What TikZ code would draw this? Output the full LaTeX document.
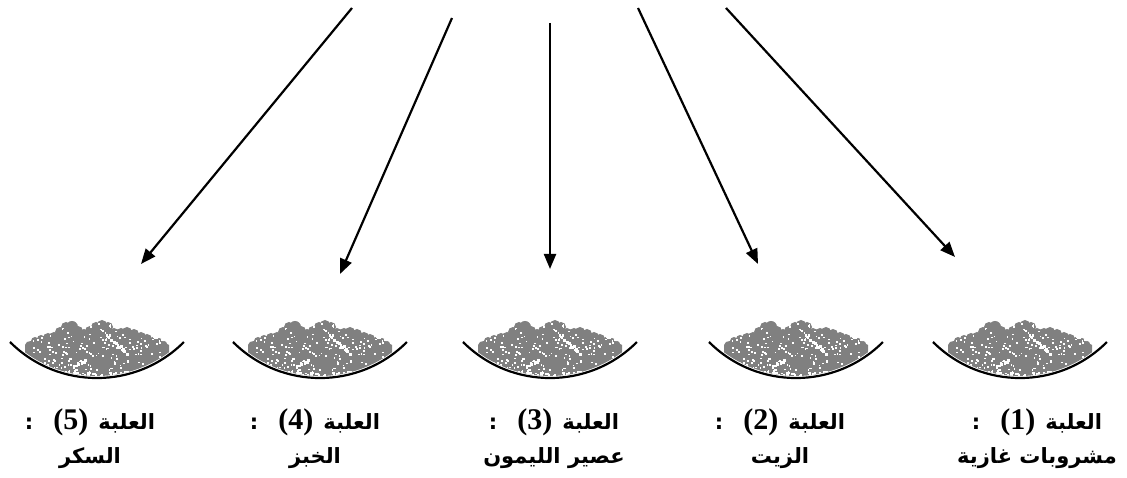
\documentclass[tikz,border=0pt]{standalone}
\usepackage{fontspec}
\usetikzlibrary{arrows.meta}
\TeXXeTstate=1
\newfontfamily\arabicfont[Script=Arabic]{DejaVu Sans}
\newfontfamily\latinfont{Liberation Serif}
\definecolor{heapgray}{RGB}{128,128,128}
\newcommand\numpar[1]{\hspace{10pt}\beginL{\fontsize{30}{34}\selectfont\latinfont\bfseries(#1)}\endL\hspace{20pt}}
\begin{document}
\begin{tikzpicture}[x=1pt,y=1pt,
  arr/.style={line width=2.2pt,-{Triangle[length=15pt,width=12pt]}},
  lab/.style={align=center,font=\fontsize{21}{34}\selectfont\arabicfont\bfseries,inner sep=0pt},
  bowl/.pic={
    \begin{scope}
      \clip (0,123) circle (121);
      \fill[heapgray] (-72,-5) -- (-72,33)
        -- (-70,36) -- (-62,38) -- (-54,40) -- (-46,41) -- (-40,43) -- (-34,50)
        -- (-28,54) -- (-22,51) -- (-16,46) -- (-10,45) -- (-4,50) -- (2,54)
        -- (8,55) -- (14,50) -- (20,45) -- (26,48) -- (32,48) -- (38,46)
        -- (44,43) -- (50,40) -- (56,38) -- (62,37) -- (68,35) -- (72,33)
        -- (72,-5) -- cycle;
      \foreach \px/\py/\pr in {-62/37/4,-56/39/4,-49/40/5,-43/41/5,-37/46/5,-31/51/5,
                               -25/51/6,-19/47/5,-13/44/5,-7/47/5,-1/51/5,5/53/5,
                               11/51/5,17/45/5,24/45/5,30/46/5,37/44/5,44/41/5,
                               50/39/5,56/37/4,62/36/4,67/34/3}
        \fill[heapgray] (\px,\py) circle (\pr);
      \pgfmathsetseed{11}
      \foreach \i in {1,...,230}
        \fill[white] ({rand*66},{1+rnd*56}) rectangle ++(1.7,1.7);
      \foreach \t in {0,0.06,...,1}
        \fill[white] ({8+22*\t+rand*1.5},{42-20*\t+rand*1.5}) rectangle ++(2.6,2.6);
      \foreach \t in {0,0.1,...,1}
        \fill[white] ({-22+10*\t+rand*1.5},{12+4*\t+rand*1.5}) rectangle ++(2.2,2.2);
      \foreach \i in {1,...,40}
        \fill[white] ({rand*55},{1+rnd*6}) rectangle ++(2.4,1.8);
    \end{scope}
    \draw[line width=2.2pt] (-87,36) arc[start angle=225,end angle=315,radius=123pt];
  }]
\useasboundingbox (0,0) rectangle (1127,478);

% bowls
\pic (b1) at (1020,100) {bowl};
\pic (b2) at (796,100) {bowl};
\pic (b3) at (550,100) {bowl};
\pic (b4) at (320,100) {bowl};
\pic (b5) at (97,100) {bowl};

% labels
\node[lab] (l1) at (1037,39) {\beginR العلبة\numpar{1}:\endR\\\beginR مشروبات غازية\endR};
\node[lab] (l2) at (780,39) {\beginR العلبة\numpar{2}:\endR\\\beginR الزيت\endR};
\node[lab] (l3) at (554,39) {\beginR العلبة\numpar{3}:\endR\\\beginR عصير الليمون\endR};
\node[lab] (l4) at (315,39) {\beginR العلبة\numpar{4}:\endR\\\beginR الخبز\endR};
\node[lab] (l5) at (90,39) {\beginR العلبة\numpar{5}:\endR\\\beginR السكر\endR};

% arrow ends
\coordinate (s1) at (726,470); \coordinate (t1) at (955,221);
\coordinate (s2) at (638,470); \coordinate (t2) at (758,214);
\coordinate (s3) at (550,455); \coordinate (t3) at (550,209);
\coordinate (s4) at (452,460); \coordinate (t4) at (340,204);
\coordinate (s5) at (352,470); \coordinate (t5) at (141,214);

\draw[arr] (s1) -- (t1);
\draw[arr] (s2) -- (t2);
\draw[arr] (s3) -- (t3);
\draw[arr] (s4) -- (t4);
\draw[arr] (s5) -- (t5);
\end{tikzpicture}
\end{document}
